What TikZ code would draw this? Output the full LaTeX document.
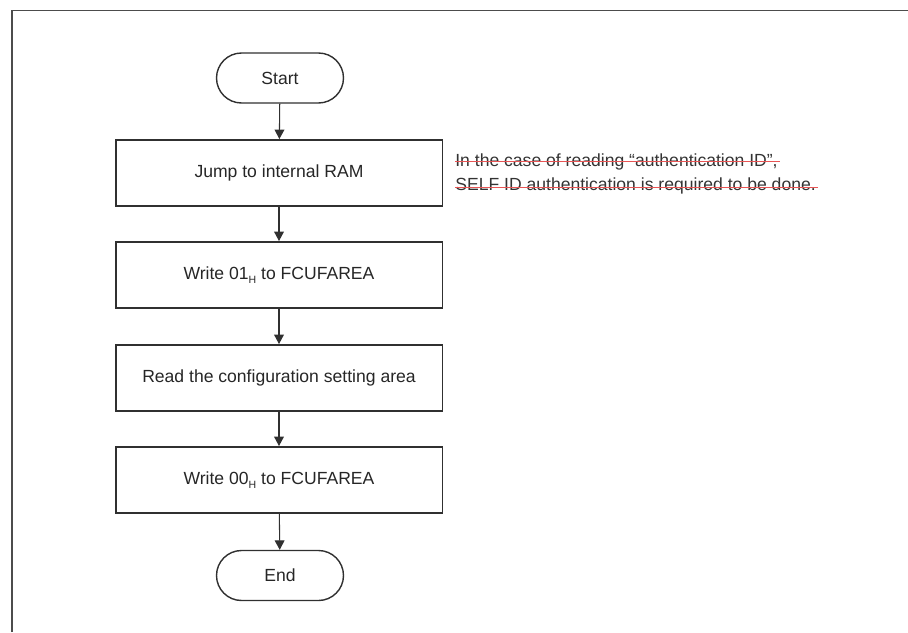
\documentclass[tikz,border=0pt]{standalone}
\usepackage{fontspec}
\setmainfont{Liberation Sans}
\usepackage{tikz}
\usetikzlibrary{positioning}
\usetikzlibrary{arrows.meta}
\definecolor{inkgray}{HTML}{303030}
\definecolor{strikered}{HTML}{E85555}
\newcommand{\subH}{\raisebox{-0.5ex}{\fontsize{6}{6}\selectfont H}}
\tikzset{node distance=2cm,
stepbox/.style={ % Sets the properties for each process box
rectangle,
draw=inkgray,
line width=1.1pt,
minimum width=6.54cm,
minimum height=1.32cm,
text=black!85,
font=\fontsize{10}{12}\selectfont},
terminal/.style={ % Start and End
rectangle,
rounded corners=0.5cm,
draw=inkgray,
line width=0.8pt,
minimum width=2.54cm,
minimum height=1.0cm,
text=black!85,
font=\fontsize{10}{12}\selectfont},
note/.style={inner sep=0pt, anchor=base west,
text=black!80,
font=\fontsize{10}{12}\selectfont},
every edge/.style={ % Sets the properties for each transition
draw=inkgray,
-{Triangle[width=5.6pt,length=5.4pt]},
line width=0.6pt}}

\begin{document}
\begin{tikzpicture}[x=0.02cm,y=-0.02cm]
\useasboundingbox (0,0) rectangle (908,632);
% frame
\draw[line width=1pt, draw=black!70] (12,632) -- (12,10.5) -- (908,10.5);
\node[terminal] (start) at (280,78) {Start};
\node[stepbox] (jump) at (279,173) {Jump to internal RAM};
\node[stepbox] (write1) at (279,275) {Write 01\subH{} to FCUFAREA};
\node[stepbox] (read) at (279,378) {Read the configuration setting area};
\node[stepbox] (write0) at (279,480) {Write 00\subH{} to FCUFAREA};
\node[terminal] (end) at (280,575.5) {End};
\draw (start) edge[] (jump) ;
\draw (jump) edge[] (write1) ;
\draw (write1) edge[] (read) ;
\draw (read) edge[] (write0) ;
\draw (write0) edge[] (end) ;
% deleted note
\node[note] (note1) at (455,166) {In the case of reading “authentication ID”,};
\node[note] (note2) at (455,190) {SELF ID authentication is required to be done.};
\draw[strikered, line width=0.9pt] ([yshift=2.6pt]note1.base west) -- ([yshift=2.6pt,xshift=1pt]note1.base east);
\draw[strikered, line width=0.9pt] ([yshift=1.5pt]note2.base west) -- ([yshift=1.5pt,xshift=1pt]note2.base east);
\end{tikzpicture}
\end{document}
